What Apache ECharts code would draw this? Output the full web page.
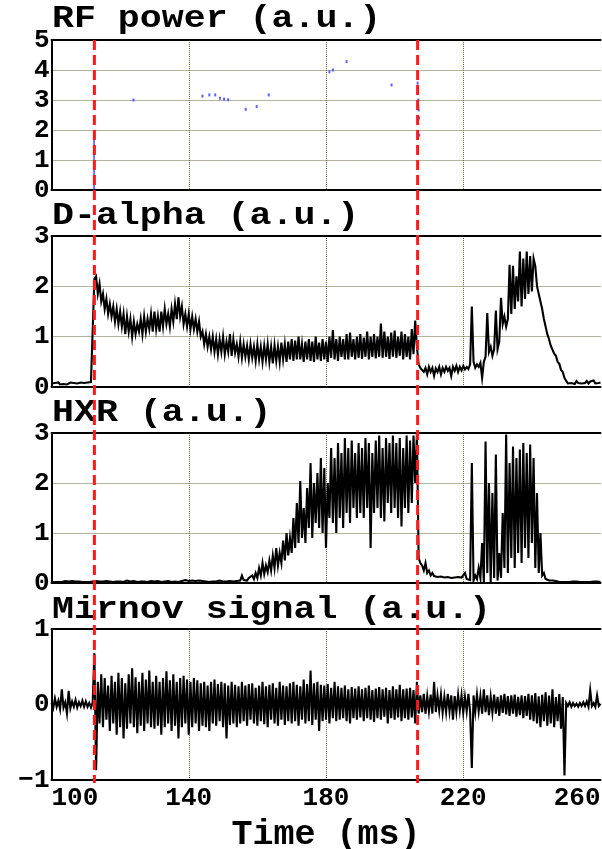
<!DOCTYPE html>
<html>
<head>
<meta charset="utf-8">
<script src="https://cdn.jsdelivr.net/npm/echarts@6/dist/echarts.min.js"></script>
<style>
  html, body { margin: 0; padding: 0; background: #fff; }
  #chart { width: 602px; height: 849px; }
</style>
</head>
<body>
<div id="chart"></div>
<script>
// ---- Shot data ----------------------------------------------------------
// Traces are sampled on a uniform grid: t = T0 + i * DT (ms)
const T0 = 100;
const DT = 0.5;

const timeMin = 100, timeMax = 260, timeStep = 40;
const eventTimes = [112.5, 206.7];           // RF on / RF off markers (ms)

const panelTitles = ['RF power (a.u.)', 'D-alpha (a.u.)', 'HXR (a.u.)', 'Mirnov signal (a.u.)'];
const panelYMin = [0, 0, 0, -1];
const panelYMax = [5, 3, 3, 1];

// RF power: sparse sampled readings
const rfTimes  = [123.9, 144.0, 146.0, 147.7, 149.1, 150.3, 151.5, 156.6, 159.8, 163.3,
                  181.0, 182.0, 186.0, 199.1, 206.7, 206.8, 206.9, 206.9, 207.0, 207.1, 207.2];
const rfValues = [3.00, 3.13, 3.17, 3.17, 3.06, 3.03, 3.01, 2.69, 2.78, 3.17,
                  3.94, 4.00, 4.28, 3.50, 3.56, 3.39, 3.00, 2.78, 2.67, 2.40, 1.83];
const rfRampTimes  = [112.4, 112.4];
const rfRampValues = [0, 1.95];

// D-alpha (one row = 5 ms)
const dalpha = [
  0.07,0.05,0.08,0.06,0.09,0.05,0.07,0.06,0.08,0.05,   // 100
  0.07,0.09,0.06,0.08,0.05,0.07,0.06,0.09,0.07,0.08,   // 105
  0.06,0.09,0.07,0.10,0.08,2.15,2.20,1.85,2.05,1.70,   // 110
  1.85,1.55,1.75,1.45,1.65,1.40,1.60,1.30,1.55,1.25,   // 115
  1.50,1.20,1.45,1.05,1.40,1.10,1.35,1.00,1.30,1.05,   // 120
  1.25,1.10,1.35,1.05,1.40,1.10,1.35,1.15,1.45,1.10,   // 125
  1.50,1.15,1.40,1.10,1.50,1.20,1.55,1.25,1.45,1.20,   // 130
  1.55,1.30,1.65,1.35,1.78,1.40,1.60,1.25,1.45,1.20,   // 135
  1.45,1.15,1.40,1.15,1.35,1.10,1.30,1.00,1.10,0.85,   // 140
  1.05,0.80,1.00,0.75,1.00,0.70,0.95,0.65,0.95,0.70,   // 145
  1.00,0.65,0.90,0.70,1.05,0.62,0.95,0.68,0.85,0.60,   // 150
  0.90,0.58,0.85,0.60,0.82,0.55,0.85,0.58,0.80,0.52,   // 155
  0.85,0.55,0.80,0.50,0.82,0.55,0.85,0.50,0.80,0.47,   // 160
  0.83,0.52,0.80,0.50,0.88,0.55,0.85,0.50,0.90,0.55,   // 165
  0.95,0.52,0.92,0.55,1.00,0.55,0.85,0.50,0.90,0.55,   // 170
  0.95,0.52,0.90,0.50,1.00,0.55,0.88,0.52,0.95,0.55,   // 175
  0.90,0.50,1.00,0.58,1.13,0.55,0.95,0.52,1.00,0.60,   // 180
  0.95,0.55,1.05,0.55,1.08,0.60,0.95,0.55,1.00,0.58,   // 185
  1.05,0.56,0.98,0.60,1.10,0.55,1.00,0.60,1.05,0.57,   // 190
  1.00,0.60,1.26,0.58,1.10,0.60,1.00,0.56,1.08,0.60,   // 195
  1.12,0.58,1.00,0.62,1.10,0.55,1.05,0.60,1.00,0.55,   // 200
  1.15,0.65,1.32,0.80,0.45,0.38,0.40,0.30,0.38,0.25,   // 205
  0.40,0.30,0.38,0.22,0.37,0.30,0.40,0.25,0.38,0.30,   // 210
  0.40,0.32,0.38,0.22,0.40,0.32,0.42,0.30,0.40,0.33,   // 215
  0.42,0.35,0.40,0.36,0.45,1.60,0.50,0.38,0.45,0.40,   // 220
  0.48,0.18,0.50,0.60,1.47,0.70,0.80,0.62,0.75,1.52,   // 225
  0.75,0.90,1.77,1.25,1.40,1.20,1.35,2.43,1.45,2.41,   // 230
  1.55,2.20,1.70,2.69,1.60,2.55,1.75,2.69,1.85,2.60,   // 235
  1.90,2.55,2.40,2.00,1.85,1.70,1.55,1.35,1.20,1.05,   // 240
  0.95,0.82,0.80,0.66,0.62,0.50,0.46,0.34,0.30,0.18,   // 245
  0.12,0.07,0.10,0.08,0.11,0.06,0.12,0.08,0.10,0.07,   // 250
  0.10,0.08,0.12,0.07,0.11,0.09,0.13,0.07,0.10,0.08,   // 255
  0.09                                                 // 260
];

// Hard X-ray (one row = 5 ms)
const hxr = [
  0.02,0.03,0.02,0.04,0.02,0.03,0.02,0.03,0.04,0.02,   // 100
  0.03,0.02,0.04,0.02,0.03,0.02,0.03,0.04,0.02,0.03,   // 105
  0.02,0.03,0.02,0.04,0.03,0.02,0.04,0.02,0.03,0.02,   // 110
  0.03,0.02,0.04,0.02,0.03,0.03,0.02,0.04,0.03,0.02,   // 115
  0.03,0.04,0.02,0.03,0.05,0.02,0.03,0.02,0.04,0.03,   // 120
  0.02,0.04,0.03,0.02,0.03,0.05,0.02,0.03,0.04,0.02,   // 125
  0.03,0.02,0.04,0.03,0.02,0.05,0.03,0.02,0.04,0.03,   // 130
  0.02,0.04,0.03,0.05,0.02,0.03,0.04,0.02,0.06,0.03,   // 135
  0.04,0.02,0.05,0.03,0.04,0.02,0.05,0.03,0.04,0.03,   // 140
  0.03,0.05,0.02,0.04,0.03,0.06,0.03,0.04,0.05,0.03,   // 145
  0.03,0.05,0.03,0.06,0.04,0.05,0.03,0.07,0.04,0.06,   // 150
  0.05,0.15,0.06,0.08,0.05,0.10,0.07,0.15,0.08,0.20,   // 155
  0.10,0.30,0.15,0.40,0.18,0.35,0.22,0.45,0.25,0.55,   // 160
  0.30,0.70,0.35,0.60,0.40,0.85,0.45,1.00,0.55,0.90,   // 165
  0.60,1.30,0.70,1.60,0.80,2.04,0.90,1.50,0.80,1.90,   // 170
  1.10,2.40,0.90,2.00,1.20,2.20,1.10,2.50,1.00,2.30,   // 175
  0.70,2.00,1.30,2.70,1.20,2.50,1.00,2.80,1.30,2.60,   // 180
  1.10,2.90,1.40,2.70,1.20,2.85,1.50,2.60,1.30,2.80,   // 185
  1.40,2.70,1.30,2.90,1.50,2.80,0.70,2.60,1.40,2.85,   // 190
  1.50,2.95,1.30,2.70,1.23,2.90,1.60,2.80,1.40,2.95,   // 195
  1.50,2.80,1.30,2.90,1.13,2.70,1.50,2.95,1.40,2.85,   // 200
  1.60,2.95,2.00,3.00,0.50,0.40,0.35,0.25,0.40,0.20,   // 205
  0.25,0.15,0.20,0.14,0.18,0.12,0.16,0.13,0.15,0.11,   // 210
  0.14,0.12,0.13,0.10,0.12,0.11,0.10,0.12,0.09,0.11,   // 215
  0.10,0.20,0.08,0.10,0.06,2.40,0.05,0.15,0.08,0.30,   // 220
  0.10,0.80,0.02,2.83,0.20,2.00,0.00,1.80,0.10,2.57,   // 225
  0.05,0.60,0.10,1.40,0.30,2.97,0.20,2.40,0.50,2.73,   // 230
  0.30,2.50,0.60,2.67,0.40,2.80,0.70,2.60,0.50,2.77,   // 235
  0.80,2.50,0.30,1.80,0.20,1.00,0.15,0.20,0.08,0.06,   // 240
  0.05,0.04,0.05,0.03,0.04,0.03,0.02,0.03,0.02,0.03,   // 245
  0.02,0.03,0.02,0.02,0.03,0.02,0.03,0.02,0.02,0.03,   // 250
  0.02,0.03,0.02,0.03,0.02,0.02,0.03,0.02,0.03,0.02,   // 255
  0.02                                                 // 260
];

// Mirnov coil (one row = 5 ms)
const mirnov = [
  0.02,-0.05,0.08,-0.03,0.05,-0.06,0.20,-0.04,0.03,-0.12,   // 100
  0.18,-0.05,0.04,-0.03,0.06,-0.04,0.03,-0.02,0.05,-0.03,   // 105
  0.04,-0.03,0.02,-0.04,0.03,0.68,-0.87,0.30,-0.25,0.40,    // 110
  -0.30,0.35,-0.20,0.25,-0.35,0.38,-0.25,0.30,-0.40,0.42,   // 115
  -0.30,0.35,-0.45,0.28,-0.32,0.40,-0.25,0.48,-0.30,0.36,   // 120
  -0.38,0.30,-0.28,0.42,-0.35,0.33,-0.25,0.45,-0.30,0.30,   // 125
  -0.32,0.38,-0.28,0.30,-0.40,0.35,-0.30,0.44,-0.25,0.32,   // 130
  -0.35,0.40,-0.28,0.30,-0.45,0.35,-0.30,0.38,-0.25,0.33,   // 135
  -0.40,0.30,-0.30,0.35,-0.25,0.32,-0.35,0.28,-0.28,0.30,   // 140
  -0.30,0.25,-0.35,0.30,-0.25,0.33,-0.28,0.27,-0.22,0.30,   // 145
  -0.30,0.28,-0.45,0.25,-0.27,0.30,-0.25,0.26,-0.30,0.24,   // 150
  -0.25,0.30,-0.22,0.25,-0.28,0.27,-0.20,0.28,-0.25,0.22,   // 155
  -0.28,0.25,-0.22,0.30,-0.26,0.24,-0.30,0.26,-0.20,0.28,   // 160
  -0.25,0.22,-0.28,0.30,-0.20,0.25,-0.27,0.24,-0.22,0.28,   // 165
  -0.25,0.30,-0.22,0.26,-0.28,0.24,-0.20,0.33,-0.25,0.27,   // 170
  -0.22,0.45,-0.27,0.28,-0.20,0.30,-0.35,0.26,-0.22,0.25,   // 175
  -0.20,0.27,-0.25,0.22,-0.18,0.30,-0.22,0.24,-0.20,0.22,   // 180
  -0.18,0.25,-0.22,0.20,-0.25,0.23,-0.18,0.21,-0.20,0.24,   // 185
  -0.17,0.20,-0.22,0.22,-0.18,0.25,-0.20,0.19,-0.23,0.21,   // 190
  -0.18,0.23,-0.20,0.20,-0.16,0.22,-0.25,0.19,-0.18,0.24,   // 195
  -0.20,0.20,-0.17,0.26,-0.22,0.20,-0.18,0.21,-0.20,0.22,   // 200
  -0.17,0.19,-0.25,0.30,-0.12,0.12,-0.10,0.14,-0.12,0.11,   // 205
  -0.09,0.13,-0.12,0.30,-0.10,0.12,-0.08,0.13,-0.11,0.10,   // 210
  -0.10,0.14,-0.09,0.12,-0.20,0.11,-0.10,0.13,-0.08,0.12,   // 215
  -0.11,0.10,-0.09,0.14,-0.10,-0.84,0.12,-0.10,0.13,-0.09,  // 220
  0.11,-0.12,0.20,-0.10,0.12,-0.14,0.10,-0.11,0.13,-0.12,   // 225
  0.10,-0.15,0.12,-0.11,0.14,-0.13,0.11,-0.15,0.12,-0.12,   // 230
  0.13,-0.16,0.10,-0.14,0.12,-0.18,0.11,-0.15,0.14,-0.20,   // 235
  0.12,-0.22,0.15,-0.25,0.11,-0.30,0.13,-0.22,0.16,-0.28,   // 240
  0.12,-0.25,0.20,-0.30,0.10,-0.22,0.14,-0.32,0.10,-0.94,   // 245
  0.02,-0.02,0.03,-0.03,0.02,-0.02,0.01,-0.03,0.02,-0.02,   // 250
  0.03,-0.02,0.04,-0.03,0.19,-0.02,0.02,-0.03,0.12,-0.02,   // 255
  0.01                                                      // 260
];

// ---- Drawing ------------------------------------------------------------
const FONT = 'Liberation Mono';
const withTime = (vals) => vals.map((v, i) => [T0 + i * DT, v]);
const pairs = (ts, vs) => ts.map((t, i) => [t, vs[i]]);

const gridTops = [40, 236, 433, 629];
const gridHeights = [150, 151, 150, 151];
const GRID_LEFT = 51.5, GRID_WIDTH = 549;

const gridLineStyle = { color: '#66663c', width: 1, type: [1, 1] };
const tickFont = { fontFamily: FONT, fontWeight: 'bold', fontSize: 26, color: '#000' };

const grids = gridTops.map((top, k) => ({
  left: GRID_LEFT, top: top, width: GRID_WIDTH, height: gridHeights[k],
  containLabel: false, outerBoundsMode: 'none'
}));

const xAxes = [];
gridTops.forEach((_, k) => {
  xAxes.push({
    type: 'value', gridIndex: k, min: timeMin, max: timeMax, interval: timeStep,
    position: 'bottom',
    axisLine: { show: true, onZero: false, lineStyle: { color: '#000', width: 2 } },
    axisTick: { show: false },
    splitLine: { show: true, showMinLine: false, showMaxLine: false, lineStyle: gridLineStyle },
    axisLabel: k === 3 ? Object.assign({
      show: true, margin: 5, alignMinLabel: 'left', alignMaxLabel: 'right'
    }, tickFont) : { show: false },
    name: k === 3 ? 'Time (ms)' : '',
    nameLocation: 'middle',
    nameGap: 55,
    nameTextStyle: { fontFamily: FONT, fontWeight: 'bold', fontSize: 35, color: '#000', verticalAlign: 'middle' }
  });
});
// top frame edge of every panel
gridTops.forEach((_, k) => {
  xAxes.push({
    type: 'value', gridIndex: k, min: timeMin, max: timeMax, interval: timeStep,
    position: 'top',
    axisLine: { show: true, onZero: false, lineStyle: { color: '#000', width: 2 } },
    axisTick: { show: false }, axisLabel: { show: false }, splitLine: { show: false }
  });
});

const yAxes = gridTops.map((_, k) => ({
  type: 'value', gridIndex: k, min: panelYMin[k], max: panelYMax[k], interval: 1,
  axisLine: { show: true, onZero: false, lineStyle: { color: '#000', width: 2 } },
  axisTick: { show: false },
  splitLine: { show: true, showMinLine: false, showMaxLine: false, lineStyle: gridLineStyle },
  axisLabel: Object.assign({
    margin: 2,
    formatter: (v) => String(v).replace('-', '\u2212')
  }, tickFont)
}));

const traceLine = (k, data) => ({
  type: 'line', xAxisIndex: k, yAxisIndex: k, data: data,
  showSymbol: false, symbol: 'none',
  lineStyle: { color: '#000', width: 2.1, join: 'miter' }, z: 3, silent: true
});

const chart = echarts.init(document.getElementById('chart'), null, { renderer: 'canvas' });
chart.setOption({
  animation: false,
  backgroundColor: '#fff',
  grid: grids,
  xAxis: xAxes,
  yAxis: yAxes,
  series: [
    {
      type: 'line', xAxisIndex: 0, yAxisIndex: 0, data: pairs(rfRampTimes, rfRampValues),
      showSymbol: false, lineStyle: { color: '#2222ff', width: 1.2 }, z: 3
    },
    {
      type: 'scatter', xAxisIndex: 0, yAxisIndex: 0, data: pairs(rfTimes, rfValues),
      symbol: 'rect', symbolSize: [2, 3], itemStyle: { color: '#3a3aff' }, z: 3
    },
    traceLine(1, withTime(dalpha)),
    traceLine(2, withTime(hxr)),
    traceLine(3, withTime(mirnov))
  ]
});

// Panel titles and event markers, placed through the axes' own scales
const titleY = [19, 216, 413, 610];
const graphics = panelTitles.map((txt, k) => ({
  type: 'text', x: 52, y: titleY[k], scaleX: 1.18, z: 50,
  style: {
    text: txt, x: 0, y: 0, fill: '#000',
    fontFamily: FONT, fontWeight: 'bold', fontSize: 31,
    align: 'left', verticalAlign: 'middle'
  }
}));
const yTop = chart.convertToPixel({ yAxisIndex: 0 }, panelYMax[0]);
const yBottom = chart.convertToPixel({ yAxisIndex: 3 }, panelYMin[3]) + 3;
eventTimes.forEach((t) => {
  const x = chart.convertToPixel({ xAxisIndex: 0 }, t);
  graphics.push({
    type: 'line', z: 100,
    shape: { x1: x, y1: yTop, x2: x, y2: yBottom },
    style: { stroke: '#ff1a1a', lineWidth: 3, lineDash: [10, 5] }
  });
});
chart.setOption({ graphic: graphics });
</script>
</body>
</html>
